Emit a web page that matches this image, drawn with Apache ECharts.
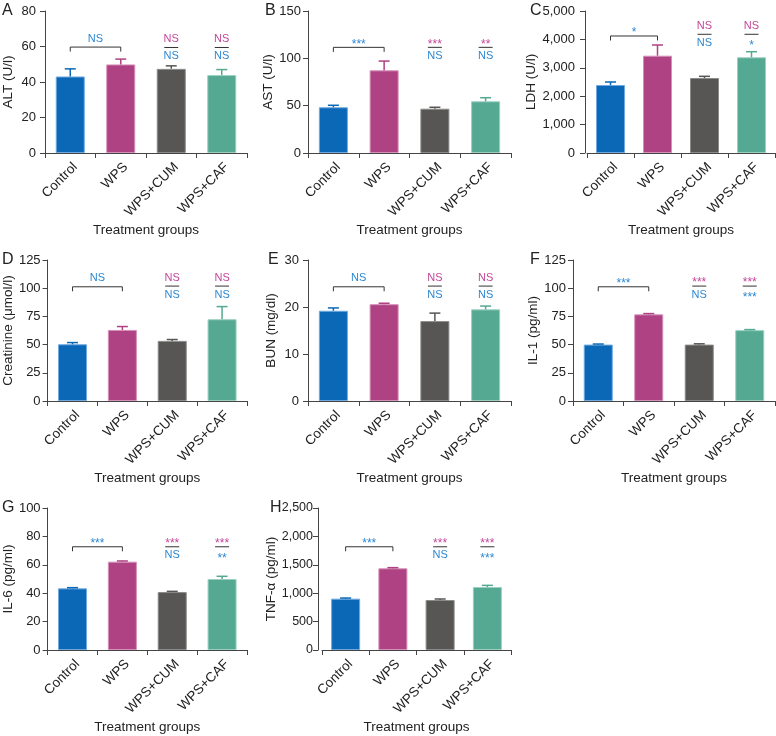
<!DOCTYPE html>
<html>
<head>
<meta charset="utf-8">
<script src="https://cdn.jsdelivr.net/npm/echarts@6/dist/echarts.min.js"></script>
<style>
  html, body { margin: 0; padding: 0; background: #fff; }
  #chart { width: 776px; height: 736px; }
</style>
</head>
<body>
<div id="chart"></div>
<script>
const groups = ['Control', 'WPS', 'WPS+CUM', 'WPS+CAF'];

// means and upper error (SE)
const altMean = [43.1, 49.9, 47.4, 43.9];
const altErr = [4.3, 3.0, 1.7, 3.1];
const astMean = [48.3, 87.3, 46.8, 54.6];
const astErr = [2.1, 9.8, 1.5, 3.8];
const ldhMean = [2394, 3426, 2641, 3370];
const ldhErr = [106, 377, 59, 197];
const creaMean = [50.3, 63.0, 53.3, 72.5];
const creaErr = [1.5, 3.0, 1.2, 11.2];
const bunMean = [19.2, 20.6, 17.0, 19.5];
const bunErr = [0.6, 0.2, 1.7, 0.7];
const il1Mean = [50.0, 76.8, 50.0, 62.8];
const il1Err = [0.5, 0.7, 0.7, 0.5];
const il6Mean = [43.4, 62.2, 40.8, 50.0];
const il6Err = [0.5, 0.5, 0.5, 1.9];
const tnfMean = [904, 1438, 880, 1109];
const tnfErr = [11, 12, 18, 29];

// significance labels: [Control vs WPS, CUM vs WPS, CUM vs Control, CAF vs WPS, CAF vs Control]
const altSig = ['NS', 'NS', 'NS', 'NS', 'NS'];
const astSig = ['***', '***', 'NS', '**', 'NS'];
const ldhSig = ['*', 'NS', 'NS', 'NS', '*'];
const creaSig = ['NS', 'NS', 'NS', 'NS', 'NS'];
const bunSig = ['NS', 'NS', 'NS', 'NS', 'NS'];
const il1Sig = ['***', '***', 'NS', '***', '***'];
const il6Sig = ['***', '***', 'NS', '***', '**'];
const tnfSig = ['***', '***', 'NS', '***', '***'];

const barColors = ['#0a68b7', '#ae4282', '#575654', '#55a892'];
const barEdges = ['#6fa9df', '#d58fb8', '#8a8a88', '#9bd0c1'];
const blueTxt = '#2d88d2';
const pinkTxt = '#c4479a';
const FONT = 'Liberation Sans';

const panels = [
  { letter: 'A', name: 'ALT (U/l)', mean: altMean, err: altErr, sig: altSig, max: 80, step: 20,
    grid: [44, 11, 203, 142], off: 0, gap: 30, lm: 9, fs: 13, br: 0.746, col: 0.743, lx: 2, ly: 3 },
  { letter: 'B', name: 'AST (U/l)', mean: astMean, err: astErr, sig: astSig, max: 150, step: 50,
    grid: [308, 11, 203, 142], off: 0, gap: 31, lm: 7, fs: 13, br: 0.744, col: 0.744, lx: 265, ly: 3 },
  { letter: 'C', name: 'LDH (U/l)', mean: ldhMean, err: ldhErr, sig: ldhSig, max: 5000, step: 1000,
    grid: [587, 11, 188, 142], off: 2, gap: 42, lm: 10, fs: 13, br: 0.824, col: 0.836, lx: 530, ly: 3 },
  { letter: 'D', name: 'Creatinine (μmol/l)', mean: creaMean, err: creaErr, sig: creaSig, max: 125, step: 25,
    grid: [44, 260, 203, 141], off: 0, gap: 30, lm: 7, fs: 13, br: 0.81, col: 0.815, lx: 2, ly: 252 },
  { letter: 'E', name: 'BUN (mg/dl)', mean: bunMean, err: bunErr, sig: bunSig, max: 30, step: 10,
    grid: [308, 260, 203, 141], off: 0, gap: 30, lm: 9, fs: 13, br: 0.81, col: 0.815, lx: 268, ly: 252 },
  { letter: 'F', name: 'IL-1 (pg/ml)', mean: il1Mean, err: il1Err, sig: il1Sig, max: 125, step: 25,
    grid: [573, 260, 202, 141], off: 0, gap: 30, lm: 7, fs: 13, br: 0.81, col: 0.815, lx: 530, ly: 252 },
  { letter: 'G', name: 'IL-6 (pg/ml)', mean: il6Mean, err: il6Err, sig: il6Sig, max: 100, step: 20,
    grid: [44, 508, 203, 142], off: 0, gap: 30, lm: 7, fs: 13, br: 0.727, col: 0.727, lx: 2, ly: 500 },
  { letter: 'H', name: 'TNF-α (pg/ml)', mean: tnfMean, err: tnfErr, sig: tnfSig, max: 2500, step: 500,
    grid: [322, 508, 189, 142], off: 4, gap: 40, lm: 5, fs: 12.5, br: 0.727, col: 0.727, lx: 270, ly: 500 }
];

function fmtThousands(v) {
  return String(v).replace(/\B(?=(\d{3})+(?!\d))/g, ',');
}

function sigText(txt, x, lineY, above, color) {
  const stars = txt.indexOf('*') >= 0;
  let y;
  if (above) y = stars ? lineY - 3 : lineY - 8.5;
  else y = stars ? lineY + 11.5 : lineY + 8.5;
  return {
    type: 'text',
    style: {
      text: txt, x: x, y: y, align: 'center', verticalAlign: 'middle',
      fill: color, font: (stars ? '12px ' : '11px ') + FONT
    }
  };
}

const grids = [], xAxes = [], yAxes = [], series = [], graphics = [];

panels.forEach((p, i) => {
  grids.push({ left: p.grid[0], top: p.grid[1], width: p.grid[2], height: p.grid[3], containLabel: false });
  xAxes.push({
    type: 'category', gridIndex: i, data: groups,
    axisLine: { lineStyle: { color: '#444', width: 1 } },
    axisTick: { show: true, length: 5, lineStyle: { color: '#444' } },
    axisLabel: { rotate: 45, fontSize: 13.5, color: '#222', fontFamily: FONT, margin: 7,
      verticalAlign: 'top', interval: 0 },
    name: 'Treatment groups', nameLocation: 'middle', nameGap: 70,
    nameTextStyle: { fontSize: 13.5, color: '#222', fontFamily: FONT, verticalAlign: 'top' }
  });
  yAxes.push({
    type: 'value', gridIndex: i, min: 0, max: p.max, interval: p.step, offset: p.off,
    axisLine: { show: true, lineStyle: { color: '#444', width: 1 } },
    axisTick: { show: true, length: 5, lineStyle: { color: '#444' } },
    splitLine: { show: false },
    axisLabel: { fontSize: p.fs, color: '#222', fontFamily: FONT, margin: p.lm,
      formatter: v => fmtThousands(v) },
    name: p.name, nameLocation: 'middle', nameGap: p.gap, nameRotate: 90,
    nameTextStyle: { fontSize: 13.5, color: '#222', fontFamily: FONT }
  });

  series.push({
    type: 'bar', xAxisIndex: i, yAxisIndex: i, barWidth: 29,
    data: p.mean.map((v, k) => ({
      value: v,
      itemStyle: { color: barColors[k], borderColor: barEdges[k], borderWidth: 1 }
    })),
    silent: true
  });

  // error bars (upper only)
  series.push({
    type: 'custom', xAxisIndex: i, yAxisIndex: i, silent: true, z: 3,
    data: p.mean.map((v, k) => [k, v, v + p.err[k]]),
    renderItem: (params, api) => {
      const k = api.value(0);
      const lo = api.coord([k, api.value(1)]);
      const hi = api.coord([k, api.value(2)]);
      const c = barColors[k];
      return {
        type: 'group',
        children: [
          { type: 'line', shape: { x1: lo[0], y1: lo[1], x2: hi[0], y2: hi[1] },
            style: { stroke: c, lineWidth: 1.5 } },
          { type: 'line', shape: { x1: hi[0] - 5.5, y1: hi[1], x2: hi[0] + 5.5, y2: hi[1] },
            style: { stroke: c, lineWidth: 1.5 } }
        ]
      };
    }
  });

  // significance annotations
  series.push({
    type: 'custom', xAxisIndex: i, yAxisIndex: i, silent: true, z: 4, clip: false,
    data: [[0, 0]],
    renderItem: (params, api) => {
      const a = api.coord([0, p.br * p.max]);
      const b = api.coord([1, p.br * p.max]);
      const c2 = api.coord([2, p.col * p.max]);
      const c3 = api.coord([3, p.col * p.max]);
      const ch = [
        { type: 'polyline', shape: { points: [[a[0], a[1] + 4.5], [a[0], a[1]], [b[0], b[1]], [b[0], b[1] + 4.5]] },
          style: { stroke: '#333', lineWidth: 1, fill: null } },
        sigText(p.sig[0], (a[0] + b[0]) / 2, a[1], true, blueTxt)
      ];
      [[c2, 1], [c3, 3]].forEach(([pt, s]) => {
        ch.push({ type: 'line', shape: { x1: pt[0] - 7, y1: pt[1], x2: pt[0] + 7, y2: pt[1] },
          style: { stroke: '#333', lineWidth: 1 } });
        ch.push(sigText(p.sig[s], pt[0], pt[1], true, pinkTxt));
        ch.push(sigText(p.sig[s + 1], pt[0], pt[1], false, blueTxt));
      });
      return { type: 'group', children: ch };
    }
  });

  graphics.push({
    type: 'text', left: p.lx, top: p.ly,
    style: { text: p.letter, font: '16px ' + FONT, fill: '#222' }
  });
});

const chart = echarts.init(document.getElementById('chart'));
chart.setOption({
  animation: false,
  backgroundColor: '#fff',
  grid: grids,
  xAxis: xAxes,
  yAxis: yAxes,
  series: series,
  graphic: graphics
});
</script>
</body>
</html>
